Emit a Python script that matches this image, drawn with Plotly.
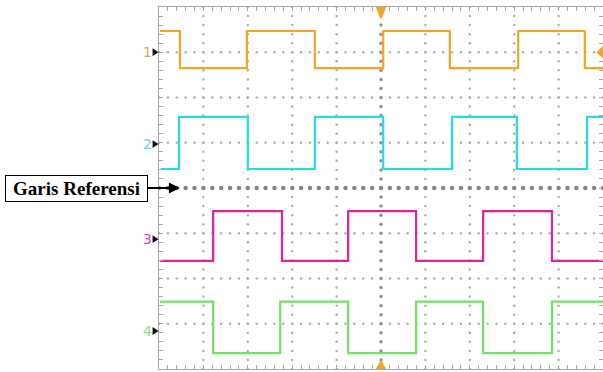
import numpy as np
import plotly.graph_objects as go

# ---- data (in screen divisions: x 0..10, y -4..4) ----
ch1_edges = [0.47, 1.98, 3.51, 5.05, 6.55, 8.09, 9.59]
ch1_start_high = True
ch1_high, ch1_low = 3.47, 2.65

ch2_edges = [0.45, 2.00, 3.51, 5.05, 6.60, 8.06, 9.64]
ch2_start_high = False
ch2_high, ch2_low = 1.57, 0.42

ch3_edges = [1.22, 2.77, 4.26, 5.79, 7.30, 8.85]
ch3_start_high = False
ch3_high, ch3_low = -0.51, -1.61

ch4_edges = [1.22, 2.73, 4.26, 5.79, 7.30, 8.85]
ch4_start_high = True
ch4_high, ch4_low = -2.51, -3.65

channel_labels = ["1", "2", "3", "4"]
channel_marker_levels = [3.0, 0.97, -1.13, -3.16]
channel_colors = ["#F4A524", "#22DDE6", "#E0229E", "#72E266"]
label_colors = ["#D2A850", "#5FD8E0", "#E044B0", "#88E080"]
trace_starts = [0.02, 0.04, 0.02, 0.02]

ref_label = "Garis Referensi"

X_MIN, X_MAX, Y_MIN, Y_MAX = 0.0, 10.0, -4.0, 4.0


def square(edges, start_high, hi, lo, x0, x1=10.0):
    xs = [x0] + list(edges) + [x1]
    ys = []
    state = start_high
    for i in range(len(xs)):
        ys.append(hi if state else lo)
        if i < len(edges):
            state = not state
    ys[-1] = ys[-2]
    return xs, ys


def py(v):
    return (v - Y_MIN) / (Y_MAX - Y_MIN)


fig = go.Figure()

grid_col = "#A8A8A8"
# regular dotted grid
gx, gy = [], []
for k in range(1, 10):
    if k == 5:
        continue
    for v in np.arange(-4, 4.001, 0.2):
        gx.append(k); gy.append(v)
for k in range(-3, 4):
    if k == 0:
        continue
    for v in np.arange(0, 10.001, 0.2):
        gx.append(v); gy.append(k)
fig.add_trace(go.Scatter(x=gx, y=gy, mode="markers",
                         marker=dict(size=2.5, color="#B0B0B0"),
                         hoverinfo="skip", showlegend=False))
# center vertical line (darker)
cv = np.arange(-4, 4.001, 0.2)
fig.add_trace(go.Scatter(x=[5] * len(cv), y=cv, mode="markers",
                         marker=dict(size=3.5, color="#909090"),
                         hoverinfo="skip", showlegend=False))
# reference line (y = 0), bold dots
ch = np.arange(0, 10.001, 0.2)
fig.add_trace(go.Scatter(x=ch, y=[0] * len(ch), mode="markers",
                         marker=dict(size=4.5, color="#858585"),
                         hoverinfo="skip", showlegend=False))

chans = [
    (ch1_edges, ch1_start_high, ch1_high, ch1_low),
    (ch2_edges, ch2_start_high, ch2_high, ch2_low),
    (ch3_edges, ch3_start_high, ch3_high, ch3_low),
    (ch4_edges, ch4_start_high, ch4_high, ch4_low),
]
for (e, s, hi, lo), col, x0 in zip(chans, channel_colors, trace_starts):
    xs, ys = square(e, s, hi, lo, x0)
    fig.add_trace(go.Scatter(x=xs, y=ys, mode="lines", line_shape="hv",
                             line=dict(color=col, width=2.2),
                             hoverinfo="skip", showlegend=False))

# channel ground markers and labels (paper coords, outside plot area)
for yv in channel_marker_levels:
    p = py(yv)
    fig.add_shape(type="path", xref="paper", yref="paper",
                  path=f"M -0.0145 {p + 0.011} L -0.001 {p} L -0.0145 {p - 0.011} Z",
                  fillcolor="#111111", line=dict(width=0), layer="above")
for lab, yv, c in zip(channel_labels, channel_marker_levels, label_colors):
    fig.add_annotation(x=-0.027, y=py(yv), xref="paper", yref="paper", text=lab,
                       showarrow=False,
                       font=dict(family="DejaVu Sans", size=14, color=c),
                       xanchor="center", yanchor="middle")

# trigger markers
tri = "#F4A524"
fig.add_shape(type="path", xref="x", yref="y",
              path="M 4.88 4.0 L 5.12 4.0 L 5.0 3.72 Z", fillcolor=tri, line=dict(width=0))
fig.add_shape(type="path", xref="x", yref="y",
              path="M 4.88 -4.0 L 5.12 -4.0 L 5.0 -3.8 Z", fillcolor=tri, line=dict(width=0))
fig.add_shape(type="path", xref="x", yref="y",
              path="M 10.0 3.14 L 10.0 2.86 L 9.85 3.0 Z", fillcolor=tri, line=dict(width=0))

# reference annotation
fig.add_annotation(x=0.47, y=0, ax=-103.5, ay=0, axref="pixel", ayref="pixel",
                   text="<b>" + ref_label + "</b>", showarrow=True,
                   arrowhead=2, arrowsize=1, arrowwidth=2.2, arrowcolor="#000000",
                   font=dict(family="Liberation Serif", size=19, color="#000000"),
                   width=137, height=21, align="center",
                   bordercolor="#000000", borderwidth=1, borderpad=2,
                   bgcolor="#FFFFFF")

axis_common = dict(showgrid=False, zeroline=False, showticklabels=False,
                   showline=True, linecolor=grid_col, linewidth=1, mirror="ticks",
                   ticks="inside", ticklen=4, tickcolor=grid_col, dtick=0.2)
fig.update_xaxes(range=[X_MIN, X_MAX], tick0=0, **axis_common)
fig.update_yaxes(range=[Y_MIN, Y_MAX], tick0=-4, **axis_common)

fig.update_layout(width=603, height=372,
                  margin=dict(l=159, r=0, t=7, b=3, autoexpand=False),
                  plot_bgcolor="#FFFFFF", paper_bgcolor="#FFFFFF")

fig.write_html("out.html", config={"displayModeBar": False},
               post_script="document.body.style.margin='0';document.body.style.overflow='hidden';")
